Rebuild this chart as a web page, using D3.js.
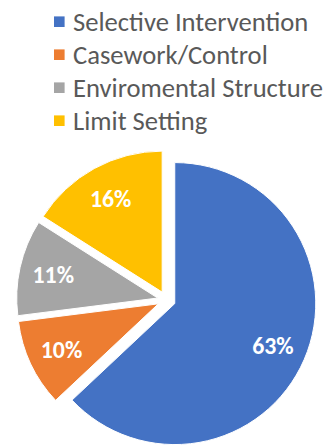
<!DOCTYPE html>
<html lang="en">
<head>
    <meta charset="UTF-8">
    <title>Intervention Types</title>
    <script src="https://d3js.org/d3.v7.min.js"></script>
    <style>
        body {
            margin: 0;
            background-color: #ffffff;
        }
        .legend text {
            font-family: Carlito, Lato, sans-serif;
            font-size: 22px;
            fill: #595959;
        }
        .slice text {
            font-family: Carlito, Lato, sans-serif;
            font-size: 20px;
            font-weight: bold;
            fill: #ffffff;
            text-anchor: middle;
        }
        .slice path {
            stroke: #ffffff;
            stroke-width: 1;
        }
    </style>
</head>
<body>
    <svg id="chart" width="336" height="445"></svg>

    <script>
        const categories = ["Selective Intervention", "Casework/Control", "Enviromental Structure", "Limit Setting"];
        const shares = [63, 10, 11, 16];
        const colors = ["#4472C4", "#ED7D31", "#A5A5A5", "#FFC000"];

        const width = 336;
        const height = 445;
        const radius = 141;
        const explode = 9;        // how far each slice is pulled out
        const labelRadius = 107;  // where the percentage sits inside a slice

        const svg = d3.select("#chart")
            .attr("width", width)
            .attr("height", height);

        const data = categories.map((c, i) => ({ name: c, value: shares[i], color: colors[i] }));
        const total = d3.sum(shares);

        // size a group of texts so the widest one spans the given width
        function fitText(sel, target) {
            const base = parseFloat(getComputedStyle(sel.node()).fontSize);
            const widest = d3.max(sel.nodes(), n => n.getComputedTextLength());
            sel.style("font-size", (base * target / widest).toFixed(2) + "px");
        }

        // legend, one row per category
        const legend = svg.append("g")
            .attr("class", "legend")
            .attr("transform", "translate(54, 0)");

        const rowY = d3.scalePoint()
            .domain(categories)
            .range([21.7, 120.7]);

        const rows = legend.selectAll("g")
            .data(data)
          .enter().append("g")
            .attr("transform", d => `translate(0, ${rowY(d.name)})`);

        rows.append("rect")
            .attr("x", 0)
            .attr("y", -5.3)
            .attr("width", 10.6)
            .attr("height", 10.6)
            .attr("fill", d => d.color);

        const legendText = rows.append("text")
            .attr("x", 19)
            .attr("dy", "0.35em")
            .text(d => d.name);
        fitText(legendText, 250);

        // pie, starting at 12 o'clock and going clockwise
        const pie = d3.pie()
            .sort(null)
            .value(d => d.value);

        const arc = d3.arc()
            .innerRadius(0)
            .outerRadius(radius);

        const labelArc = d3.arc()
            .innerRadius(labelRadius)
            .outerRadius(labelRadius);

        const g = svg.append("g")
            .attr("transform", "translate(166.5, 300)");

        const slices = g.selectAll(".slice")
            .data(pie(data))
          .enter().append("g")
            .attr("class", "slice")
            .attr("transform", d => {
                const mid = (d.startAngle + d.endAngle) / 2;
                return `translate(${Math.sin(mid) * explode}, ${-Math.cos(mid) * explode})`;
            });

        slices.append("path")
            .attr("d", arc)
            .attr("fill", d => d.data.color);

        const labels = slices.append("text")
            .attr("transform", d => `translate(${labelArc.centroid(d)})`)
            .attr("dy", "0.35em")
            .text(d => Math.round(d.data.value / total * 100) + "%");
        fitText(labels, 41.5);
    </script>
</body>
</html>
